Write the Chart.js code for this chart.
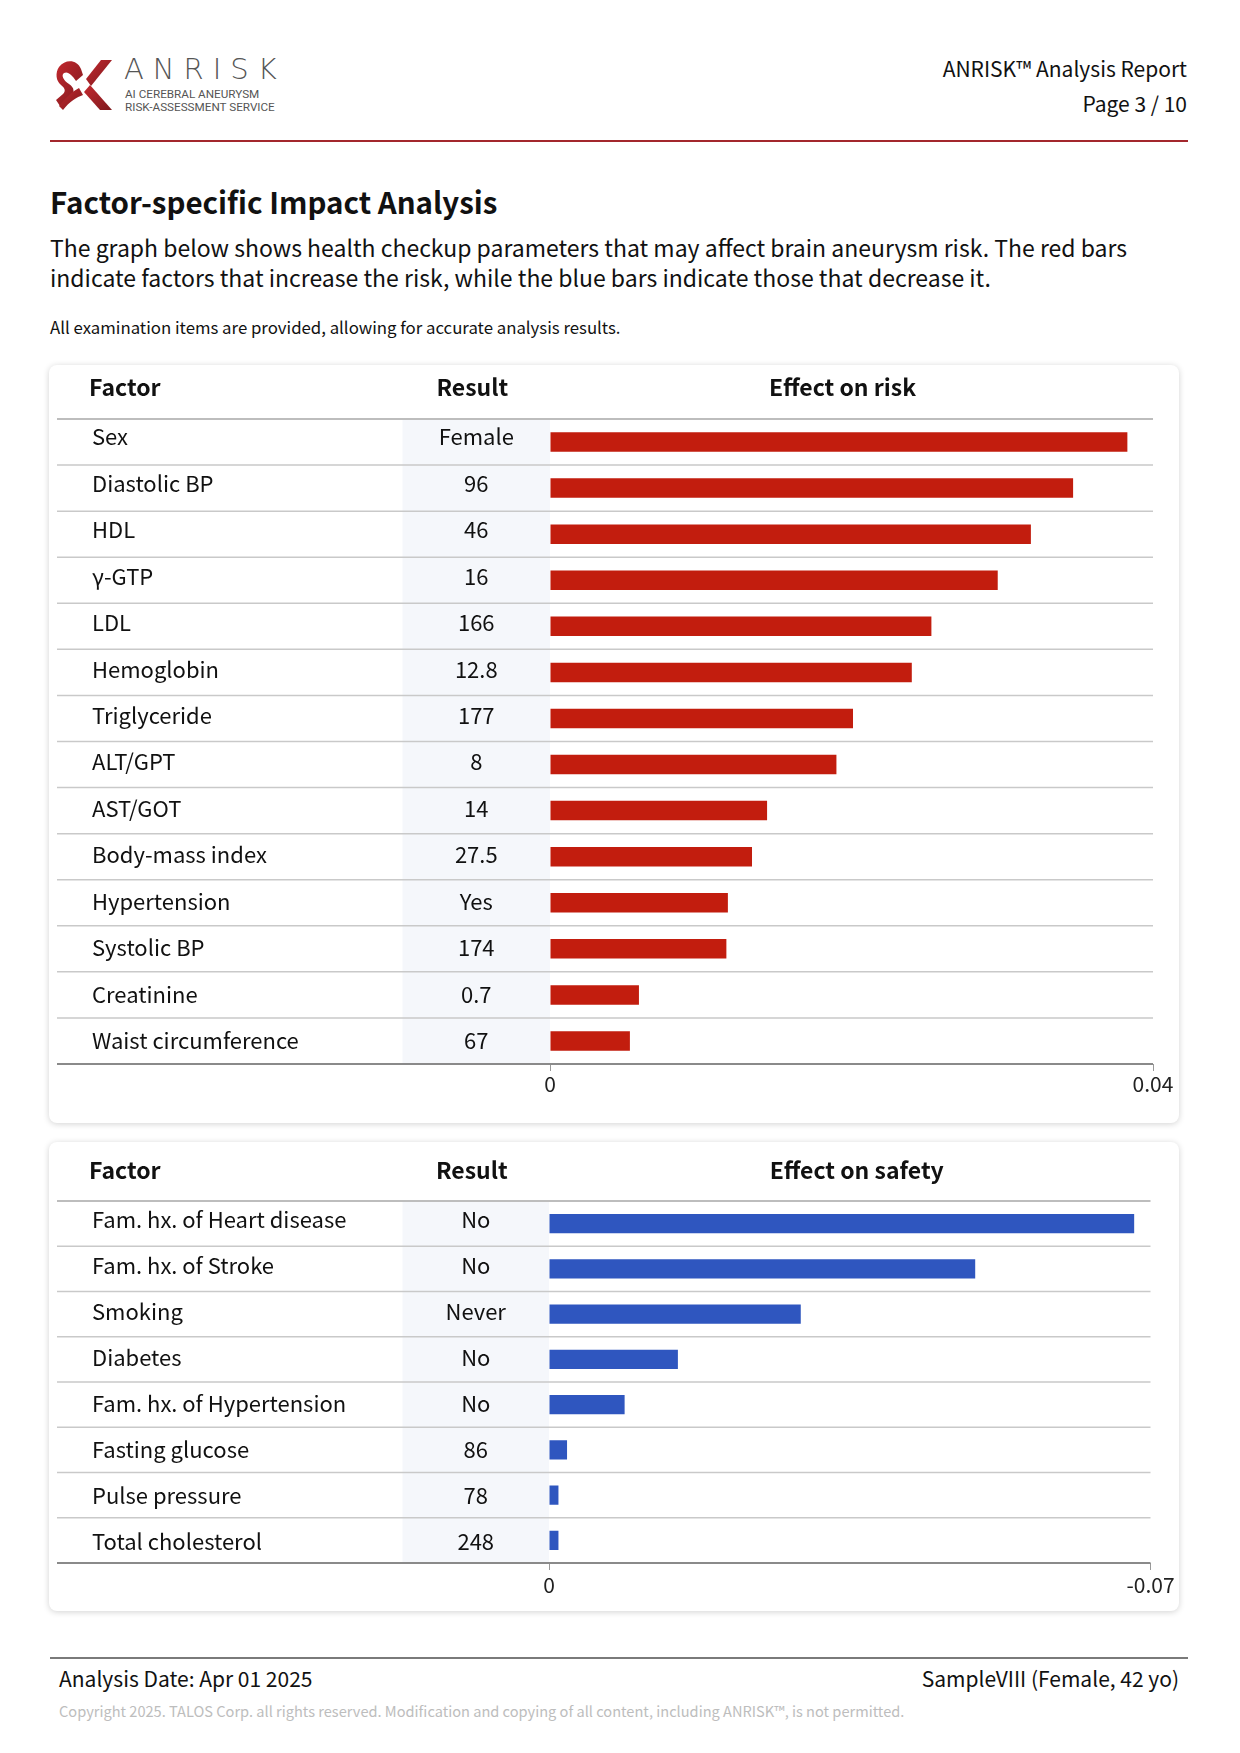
<!DOCTYPE html>
<html>
<head>
<meta charset="utf-8">
<script src="https://cdn.jsdelivr.net/npm/chart.js@4.4.0/dist/chart.umd.min.js"></script>
<style>
  body { margin: 0; background: #fff; font-family: "Noto Sans CJK JP", "Noto Sans", sans-serif; color: #111; }
  .page { position: relative; width: 1240px; height: 1753px; overflow: hidden; }
  .abs { position: absolute; white-space: nowrap; }
  .card { position: absolute; background: #fff; border-radius: 8px; box-shadow: 0 1px 6px rgba(0,0,0,0.18); }
  canvas { position: absolute; }
</style>
</head>
<body>
<div class="page">
  <!-- header -->
  <svg class="abs" style="left:55px;top:57px" width="58" height="56" viewBox="0 0 58 56">
    <defs>
      <linearGradient id="g" x1="0" y1="0" x2="1" y2="1">
        <stop offset="0" stop-color="#c3282e"/>
        <stop offset="1" stop-color="#7e1a1e"/>
      </linearGradient>
    </defs>
    <path d="M4 10 C10 2 22 2 26 12 L28 18 L21 24 C17 18 13 14 9 16 C6 18 8 23 14 27 C20 31 20 36 14 41 L5 49 L1 43 L8 37 C11 34 10 31 6 28 C1 24 0 16 4 10 Z" fill="url(#g)"/>
    <path d="M57 3 L46 3 L31 22 L36 29 Z" fill="url(#g)"/>
    <path d="M57 53 L45 53 L29 35 L35 28 Z" fill="url(#g)"/>
    <path d="M8 53 C14 45 22 40 28 38 L24 31 C16 35 10 42 4 49 Z" fill="url(#g)"/>
  </svg>
  <div class="abs" style="left:124px;top:52px;font-family:'DejaVu Sans';font-weight:200;font-size:29px;letter-spacing:9px;color:#555">ANRISK</div>
  <div class="abs" style="left:125px;top:88px;font-family:Roboto;font-size:11.7px;color:#555;line-height:13px">AI CEREBRAL ANEURYSM<br>RISK-ASSESSMENT SERVICE</div>
  <div class="abs" style="right:53px;top:51px;font-size:21px;text-align:right;line-height:34.5px">ANRISK™ Analysis Report<br>Page 3 / 10</div>
  <div class="abs" style="left:50px;top:140px;width:1138px;height:2px;background:#a3272d"></div>

  <!-- intro -->
  <div class="abs" style="left:50px;top:180px;font-size:29.5px;font-weight:bold">Factor-specific Impact Analysis</div>
  <div class="abs" style="left:50px;top:232px;font-size:23px;line-height:30px">The graph below shows health checkup parameters that may affect brain aneurysm risk. The red bars<br>indicate factors that increase the risk, while the blue bars indicate those that decrease it.</div>
  <div class="abs" style="left:50px;top:315px;font-size:16.8px">All examination items are provided, allowing for accurate analysis results.</div>

  <!-- cards -->
  <div class="card" style="left:49px;top:365px;width:1130px;height:758px"></div>
  <canvas id="riskChart" width="1121" height="749" style="left:57px;top:365px"></canvas>
  <div class="card" style="left:49px;top:1142px;width:1130px;height:469px"></div>
  <canvas id="safetyChart" width="1121" height="471" style="left:57px;top:1142px"></canvas>

  <!-- footer -->
  <div class="abs" style="left:50px;top:1657px;width:1138px;height:2px;background:#7a7a7a"></div>
  <div class="abs" style="left:59px;top:1663px;font-size:21px">Analysis Date: Apr 01 2025</div>
  <div class="abs" style="right:61px;top:1663px;font-size:21px">SampleVIII (Female, 42 yo)</div>
  <div class="abs" style="left:59px;top:1700px;font-size:14.6px;color:#bdbdbd">Copyright 2025. TALOS Corp. all rights reserved. Modification and copying of all content, including ANRISK™, is not permitted.</div>
</div>

<script>
// risk-increasing factors
const riskFactors = ['Sex', 'Diastolic BP', 'HDL', 'γ-GTP', 'LDL', 'Hemoglobin', 'Triglyceride', 'ALT/GPT', 'AST/GOT', 'Body-mass index', 'Hypertension', 'Systolic BP', 'Creatinine', 'Waist circumference'];
const riskResults = ['Female', '96', '46', '16', '166', '12.8', '177', '8', '14', '27.5', 'Yes', '174', '0.7', '67'];
const riskEffects = [0.0383, 0.0347, 0.0319, 0.0297, 0.0253, 0.0240, 0.0201, 0.0190, 0.0144, 0.0134, 0.0118, 0.0117, 0.0059, 0.0053];
const riskTicks = [0, 0.04];
const riskTickLabels = ['0', '0.04'];

// risk-decreasing factors
const safetyFactors = ['Fam. hx. of Heart disease', 'Fam. hx. of Stroke', 'Smoking', 'Diabetes', 'Fam. hx. of Hypertension', 'Fasting glucose', 'Pulse pressure', 'Total cholesterol'];
const safetyResults = ['No', 'No', 'Never', 'No', 'No', '86', '78', '248'];
const safetyEffects = [-0.0681, -0.0496, -0.0293, -0.0150, -0.0088, -0.0021, -0.0011, -0.0011];
const safetyTicks = [0, -0.07];
const safetyTickLabels = ['0', '-0.07'];

Chart.defaults.font.family = '"Noto Sans CJK JP", "Noto Sans", sans-serif';
Chart.defaults.color = '#222';

// draws the factor / result columns, header and row lines around the bars
const tablePlugin = {
  id: 'tablePlugin',
  beforeDatasetsDraw(chart) {
    const o = chart.options.plugins.tablePlugin;
    const { ctx, chartArea } = chart;
    const y = chart.scales.y;
    const n = o.factors.length;

    ctx.save();
    ctx.fillStyle = '#f5f7fb';
    ctx.fillRect(o.shadeLeft, chartArea.top, chartArea.left - o.shadeLeft, chartArea.bottom - chartArea.top);

    // header
    ctx.fillStyle = '#111';
    ctx.font = 'bold 23px "Noto Sans CJK JP"';
    ctx.textBaseline = 'middle';
    const hy = chartArea.top - o.headerOffset;
    ctx.textAlign = 'left';
    ctx.fillText('Factor', 32, hy);
    ctx.textAlign = 'center';
    ctx.fillText('Result', (o.shadeLeft + chartArea.left) / 2 - 4, hy);
    ctx.fillText(o.title, (chartArea.left + chartArea.right) / 2 + o.titleShift, hy);

    // row separators
    const bounds = [chartArea.top];
    for (let i = 1; i < n; i++) {
      bounds.push((y.getPixelForValue(i - 1) + y.getPixelForValue(i)) / 2);
    }
    bounds.push(chartArea.bottom);
    bounds.forEach((b, i) => {
      ctx.beginPath();
      if (i === 0) { ctx.strokeStyle = '#bdbdbd'; ctx.lineWidth = 2; }
      else if (i === n) { ctx.strokeStyle = '#8a8a8a'; ctx.lineWidth = 2; }
      else { ctx.strokeStyle = '#c9c9c9'; ctx.lineWidth = 1.5; }
      ctx.moveTo(0, b);
      ctx.lineTo(chartArea.right, b);
      ctx.stroke();
    });

    // row texts (text rows sit on a slightly different pitch than the bars)
    ctx.font = '22px "Noto Sans CJK JP"';
    ctx.fillStyle = '#111';
    for (let i = 0; i < n; i++) {
      const cy = y.getPixelForValue(i) + o.textOffset + i * o.textDrift;
      ctx.textAlign = 'left';
      ctx.fillText(o.factors[i], 35, cy);
      ctx.textAlign = 'center';
      ctx.fillText(o.results[i], (o.shadeLeft + chartArea.left) / 2, cy);
    }
    ctx.restore();
  }
};

function makeChart(id, factors, results, effects, ticks, tickLabels, color, opts) {
  return new Chart(document.getElementById(id), {
    type: 'bar',
    data: {
      labels: factors,
      datasets: [{
        data: effects,
        backgroundColor: color,
        borderWidth: 0,
        barPercentage: 0.8,
        categoryPercentage: 0.53
      }]
    },
    options: {
      indexAxis: 'y',
      responsive: false,
      animation: false,
      layout: { padding: opts.padding },
      plugins: {
        legend: { display: false },
        tooltip: { enabled: false },
        tablePlugin: {
          factors, results,
          shadeLeft: opts.shadeLeft,
          title: opts.title,
          titleShift: opts.titleShift,
          headerOffset: opts.headerOffset,
          textOffset: opts.textOffset,
          textDrift: opts.textDrift
        }
      },
      scales: {
        x: {
          type: 'linear',
          min: Math.min(...ticks),
          max: Math.max(...ticks),
          reverse: opts.reverse,
          afterBuildTicks: s => { s.ticks = ticks.map(v => ({ value: v })); },
          afterFit: s => { s.height = 50; },
          grid: { drawOnChartArea: false, drawTicks: true, tickLength: 7, color: '#999' },
          border: { display: false },
          ticks: {
            autoSkip: false,
            maxRotation: 0,
            padding: opts.tickPadding,
            font: { size: 21 },
            color: '#222',
            callback: (v, i) => tickLabels[i]
          }
        },
        y: { type: 'category', display: false, offset: true }
      }
    },
    plugins: [tablePlugin]
  });
}

makeChart('riskChart', riskFactors, riskResults, riskEffects, riskTicks, riskTickLabels, '#c21d0e', {
  padding: { left: 493, top: 54, right: 25, bottom: 0 }, shadeLeft: 345.5,
  title: 'Effect on risk', titleShift: -9, headerOffset: 32,
  textOffset: -5, textDrift: 0.37, tickPadding: 0, reverse: false
});
makeChart('safetyChart', safetyFactors, safetyResults, safetyEffects, safetyTicks, safetyTickLabels, '#2f56bf', {
  padding: { left: 492, top: 59, right: 27.5, bottom: 0 }, shadeLeft: 345.5,
  title: 'Effect on safety', titleShift: 7, headerOffset: 30.5,
  textOffset: -4, textDrift: 0.72, tickPadding: 2, reverse: true
});
</script>
</body>
</html>
